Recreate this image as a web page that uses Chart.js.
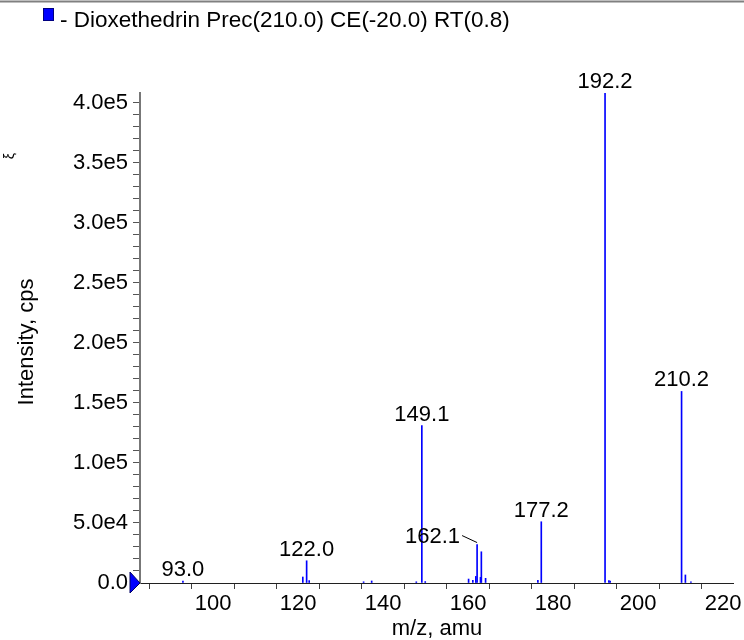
<!DOCTYPE html>
<html>
<head>
<meta charset="utf-8">
<script src="https://cdn.jsdelivr.net/npm/chart.js@4.4.0/dist/chart.umd.min.js"></script>
<style>
  html, body { margin: 0; padding: 0; background: #fff; }
  canvas { display: block; }
</style>
</head>
<body>
<canvas id="spectrum" width="744" height="640"></canvas>
<script>
// peak list (m/z, intensity in cps)
const mzValues = [92.9, 121.1, 122.0, 122.6, 135.4, 137.3, 147.8, 149.1, 149.9,
  160.1, 161.1, 161.8, 162.1, 162.9, 163.1, 164.1, 176.4, 177.2,
  192.2, 193.1, 193.4, 210.2, 211.1, 212.4]
const intensityValues = [1500, 5000, 18500, 2000, 1000, 1700, 1000, 131000, 1200,
  3300, 2200, 5500, 32000, 4700, 26000, 3900, 2200, 51000,
  408000, 2000, 1500, 159500, 6700, 1000]

// annotated peaks
const labelMz = [92.9, 122.0, 149.1, 162.1, 177.2, 192.2, 210.2]
const labelText = ["93.0", "122.0", "149.1", "162.1", "177.2", "192.2", "210.2"]

// axis ticks: every 1e4 on y (labels every 5e4), every 10 on x (labels every 20)
const yTicks = []
for (let v = 0; v <= 400000; v += 10000) yTicks.push(v)
const yLabelTicks = [0, 50000, 100000, 150000, 200000, 250000, 300000, 350000, 400000]
const xTicks = [90, 100, 110, 120, 130, 140, 150, 160, 170, 180, 190, 200, 210, 220]
const xLabelTicks = [100, 120, 140, 160, 180, 200, 220]

const legendText = "- Dioxethedrin Prec(210.0) CE(-20.0) RT(0.8)"
const xTitle = "m/z, amu"
const yTitle = "Intensity, cps"

const FAMILY = "'Liberation Sans', Arial, sans-serif"

function formatIntensity(v) {
    if (v === 0) return "0.0"
    return v.toExponential(1).replace("+", "")
}

const decorPlugin = {
    id: "decor",
    afterDraw(chart) {
        const ctx = chart.ctx
        const xs = chart.scales.x
        const ys = chart.scales.y
        ctx.save()

        // top frame line
        ctx.strokeStyle = "#808080"
        ctx.lineWidth = 2
        ctx.beginPath()
        ctx.moveTo(0, 1.5)
        ctx.lineTo(744, 1.5)
        ctx.stroke()

        // legend
        ctx.fillStyle = "#0000ff"
        ctx.fillRect(43, 8, 11, 13)
        ctx.strokeStyle = "#000080"
        ctx.lineWidth = 1
        ctx.strokeRect(43.5, 8.5, 10, 12)
        ctx.fillStyle = "#000"
        ctx.font = "22.5px " + FAMILY
        ctx.textAlign = "left"
        ctx.textBaseline = "alphabetic"
        ctx.fillText(legendText, 60, 27)

        // stray clipped glyph at the left edge
        ctx.save()
        ctx.font = "14px " + FAMILY
        ctx.translate(14, 156)
        ctx.rotate(-Math.PI / 2)
        ctx.textAlign = "center"
        ctx.fillText("ξ", 0, 0)
        ctx.restore()

        // axis titles
        ctx.font = "22px " + FAMILY
        ctx.textAlign = "center"
        ctx.fillText(xTitle, 437, 635)
        ctx.save()
        ctx.translate(33, 342)
        ctx.rotate(-Math.PI / 2)
        ctx.fillText(yTitle, 0, 0)
        ctx.restore()

        // peak labels
        for (let i = 0; i < labelMz.length; i++) {
            const idx = mzValues.indexOf(labelMz[i])
            const px = xs.getPixelForValue(labelMz[i])
            const py = ys.getPixelForValue(intensityValues[idx])
            ctx.fillStyle = "#000"
            if (labelText[i] === "162.1") {
                ctx.textAlign = "right"
                ctx.fillText(labelText[i], px - 17, py - 2)
                ctx.strokeStyle = "#000"
                ctx.lineWidth = 1
                ctx.beginPath()
                ctx.moveTo(px - 15, py - 9)
                ctx.lineTo(px, py - 2)
                ctx.stroke()
            } else {
                ctx.textAlign = "center"
                ctx.fillText(labelText[i], px, py - 5)
            }
        }

        // origin marker
        const ox = xs.left
        const oy = ys.getPixelForValue(0)
        ctx.fillStyle = "#0000ff"
        ctx.strokeStyle = "#000060"
        ctx.lineWidth = 1
        ctx.beginPath()
        ctx.moveTo(ox - 10, oy - 11)
        ctx.lineTo(ox, oy)
        ctx.lineTo(ox - 10, oy + 10)
        ctx.closePath()
        ctx.fill()
        ctx.stroke()

        ctx.restore()
    }
}

const data = {
    datasets: [{
        label: legendText,
        data: mzValues.map((m, i) => ({ x: m, y: intensityValues[i] })),
        backgroundColor: "#0000ff",
        borderWidth: 0,
        barThickness: 1
    }]
}

const config = {
    type: "bar",
    data: data,
    options: {
        responsive: false,
        animation: false,
        devicePixelRatio: 1,
        layout: { padding: { top: 93, right: 11, left: 0, bottom: 0 } },
        plugins: {
            legend: { display: false },
            tooltip: { enabled: false }
        },
        scales: {
            x: {
                type: "linear",
                offset: false,
                min: 82.8,
                max: 222.3,
                afterBuildTicks: (s) => { s.ticks = xTicks.map(v => ({ value: v })) },
                afterFit: (s) => { s.height = 57 },
                border: { display: true, color: "#202020", width: 1 },
                grid: { drawOnChartArea: false, drawTicks: true, tickLength: 6, color: "#404040" },
                ticks: {
                    autoSkip: false,
                    maxRotation: 0,
                    padding: 2,
                    color: "#000",
                    font: { family: FAMILY, size: 22 },
                    callback: (v) => (xLabelTicks.includes(v) ? String(v) : "")
                }
            },
            y: {
                min: 0,
                max: 408000,
                afterBuildTicks: (s) => { s.ticks = yTicks.map(v => ({ value: v })) },
                afterFit: (s) => { s.width = 140 },
                border: { display: true, color: "#777777", width: 2 },
                grid: { drawOnChartArea: false, drawTicks: true, tickLength: 7, color: "#555555" },
                ticks: {
                    autoSkip: false,
                    padding: 5,
                    color: "#000",
                    font: { family: FAMILY, size: 22 },
                    callback: (v) => (yLabelTicks.includes(v) ? formatIntensity(v) : "")
                }
            }
        }
    },
    plugins: [decorPlugin]
}

new Chart(document.querySelector("#spectrum"), config)
</script>
</body>
</html>
